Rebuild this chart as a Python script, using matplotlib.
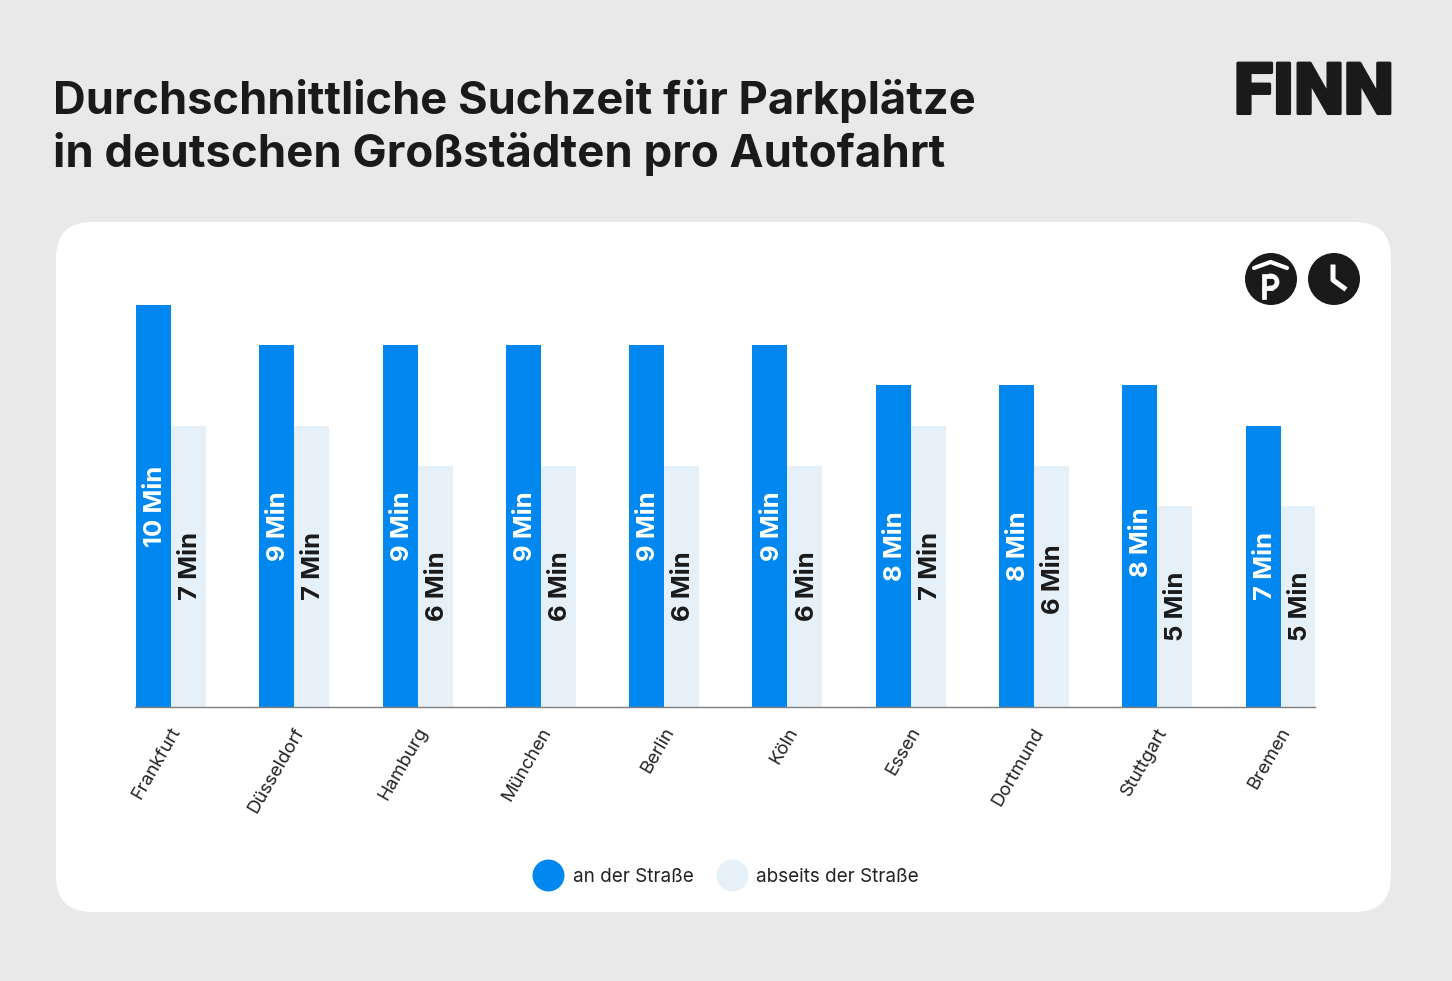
import matplotlib
matplotlib.use("Agg")
import matplotlib.pyplot as plt
import matplotlib.patheffects as pe
import numpy as np
from matplotlib.patches import FancyBboxPatch, Circle
from matplotlib.lines import Line2D
from matplotlib.transforms import ScaledTranslation

cities = ["Frankfurt", "Düsseldorf", "Hamburg", "München", "Berlin", "Köln", "Essen", "Dortmund", "Stuttgart", "Bremen"]
street = [10, 9, 9, 9, 9, 9, 8, 8, 8, 7]
offstreet = [7, 7, 6, 6, 6, 6, 7, 6, 5, 5]
series_names = ["an der Straße", "abseits der Straße"]
title_lines = ["Durchschnittliche Suchzeit für Parkplätze", "in deutschen Großstädten pro Autofahrt"]

W, H = 1452, 981
BG, BLUE, LIGHT, DARK = "#E9E9E9", "#0088F0", "#E6F0F8", "#1A1A1A"
plt.rcParams["font.family"] = ["Inter", "DejaVu Sans"]

fig = plt.figure(figsize=(W / 100, H / 100), dpi=100, facecolor=BG)

# pixel-space overlay for card, icons
bgax = fig.add_axes([0, 0, 1, 1], zorder=0)
bgax.set_xlim(0, W); bgax.set_ylim(H, 0); bgax.axis("off")
bgax.add_patch(FancyBboxPatch((56 + 36, 222 + 36), 1335 - 72, 690 - 72,
                              boxstyle="round,pad=36,rounding_size=36", fc="white", ec="none"))

# icons
bgax.add_patch(Circle((1271, 279), 26, fc=DARK, ec="none"))
bgax.add_patch(Circle((1334, 279), 26, fc=DARK, ec="none"))
bgax.plot([1254, 1270.5, 1287], [268, 262, 268], color="white", lw=3, solid_capstyle="round", solid_joinstyle="round")
bgax.plot([1264, 1264, 1271], [297, 276, 276], color="white", lw=3.4, solid_joinstyle="miter")
bgax.plot([1264, 1271], [288, 288], color="white", lw=3.4)
theta = np.linspace(-np.pi / 2, np.pi / 2, 30)
bgax.plot(1271 + 6 * np.cos(theta), 282 + 6 * np.sin(theta), color="white", lw=3.4)
bgax.plot([1333, 1333, 1344], [267, 280, 288], color="white", lw=3.6, solid_joinstyle="round")

# chart
L, R, T, B = 135, 1315, 280, 707.3
ax = fig.add_axes([L / W, 1 - B / H, (R - L) / W, (B - T) / H], zorder=1)
ax.patch.set_alpha(0)
x = np.arange(len(cities))
bw = 35 / 123.3
ax.set_xlim(-(171 - L) / 123.3, (R - 171) / 123.3)
ax.set_ylim(0, (B - T) / 40.25)
ax.bar(x - bw / 2, street, bw, color=BLUE)
ax.bar(x + bw / 2, offstreet, bw, color=LIGHT)

# small shifts in points for labels that sit off centre in the reference
nudge_street = {8: 3}
nudge_off = {7: 5.5}
for i, (xi, v) in enumerate(zip(x - bw / 2, street)):
    ax.annotate(f"{v} Min", (xi, v / 2), xytext=(1.5, nudge_street.get(i, 0)), textcoords="offset points",
                rotation=90, ha="center", va="center", color="white", fontsize=18.5, fontweight="bold")
for i, (xi, v) in enumerate(zip(x + bw / 2, offstreet)):
    ax.annotate(f"{v} Min", (xi, v / 2), xytext=(1.5, nudge_off.get(i, 0)), textcoords="offset points",
                rotation=90, ha="center", va="center", color=DARK, fontsize=18.5, fontweight="bold")

for s in ("top", "left", "right"):
    ax.spines[s].set_visible(False)
ax.spines["bottom"].set_color("#7F7F7F")
ax.spines["bottom"].set_linewidth(1)
ax.set_yticks([])
ax.set_xticks(x, cities, rotation=60, ha="right", va="center", rotation_mode="anchor",
              fontsize=13.4, color="#222222")
ax.tick_params(axis="x", length=0, pad=15.5)
shift = ScaledTranslation(6 / 100, 0, fig.dpi_scale_trans)
for lab in ax.get_xticklabels():
    lab.set_transform(lab.get_transform() + shift)

handles = [Line2D([], [], ls="none", marker="o", ms=23, mfc=c, mec="none") for c in (BLUE, LIGHT)]
fig.legend(handles, series_names, ncol=2, frameon=False, loc="center",
           bbox_to_anchor=(726 / W, 1 - 877 / H), fontsize=13.6, labelcolor="#222222",
           handletextpad=0.5, columnspacing=1.2, handlelength=1.6)

fig.text(53 / W, 1 - 101 / H, title_lines[0], fontsize=32.6, fontweight="bold", color=DARK, va="center", ha="left")
fig.text(53 / W, 1 - 154 / H, title_lines[1], fontsize=32.8, fontweight="bold", color=DARK, va="center", ha="left")
logo = fig.text(1314 / W, 1 - 94 / H, "FINN", fontsize=51, fontweight="black", family="Roboto", color=DARK, va="center", ha="center")
logo.set_path_effects([pe.withStroke(linewidth=2.2, foreground=DARK)])

fig.savefig("out.png", dpi=100, facecolor=BG)
